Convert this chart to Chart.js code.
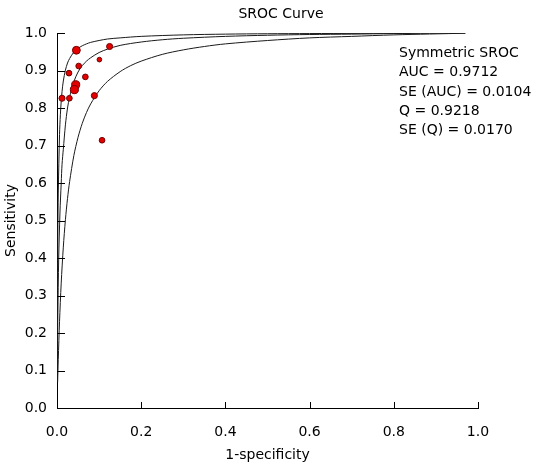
<!DOCTYPE html>
<html>
<head>
<meta charset="utf-8">
<script src="https://cdn.jsdelivr.net/npm/chart.js@4.4.1/dist/chart.umd.min.js"></script>
<style>
  html, body { margin: 0; padding: 0; background: #fff; }
</style>
</head>
<body>
<canvas id="myChart" width="539" height="469"></canvas>
<script>
const chartTitle = "SROC Curve";
const xTitle = "1-specificity";
const yTitle = "Sensitivity";
const xTicks = [0, 0.2, 0.4, 0.6, 0.8, 1.0];
const yTicks = [0, 0.1, 0.2, 0.3, 0.4, 0.5, 0.6, 0.7, 0.8, 0.9, 1.0];

// individual studies (1-specificity, sensitivity, relative weight)
const studyFpr    = [0.046, 0.125, 0.0515, 0.0285, 0.1007, 0.0674, 0.0444, 0.0413, 0.0119, 0.0294, 0.0888, 0.107];
const studySens   = [0.954, 0.964, 0.912,  0.893,  0.929,  0.883,  0.862,  0.849,  0.826,  0.826,  0.833,  0.714];
const studyWeight = [11, 6, 5, 5, 3, 5, 12, 12, 6, 5, 6, 5];

// curves
const upperFpr  = [0.0002, 0.0005, 0.001, 0.002, 0.003, 0.006, 0.008, 0.01, 0.012, 0.015, 0.02, 0.025, 0.03, 0.04, 0.05, 0.06, 0.07, 0.08, 0.1, 0.12, 0.15, 0.2, 0.3, 0.4, 0.5, 0.6, 0.84];
const upperSens = [0.082, 0.182, 0.309, 0.472, 0.573, 0.729, 0.782, 0.818, 0.844, 0.872, 0.901, 0.920, 0.932, 0.949, 0.959, 0.966, 0.971, 0.975, 0.980, 0.984, 0.987, 0.991, 0.995, 0.997, 0.998, 0.9985, 0.9996];

const midFpr  = [0.0005, 0.001, 0.002, 0.004, 0.007, 0.01, 0.012, 0.015, 0.02, 0.025, 0.03, 0.04, 0.05, 0.06, 0.07, 0.08, 0.1, 0.12, 0.15, 0.2, 0.25, 0.3, 0.4, 0.5, 0.6, 0.7, 0.8, 0.97];
const midSens = [0.076, 0.141, 0.247, 0.397, 0.520, 0.600, 0.650, 0.690, 0.755, 0.800, 0.830, 0.870, 0.896, 0.913, 0.925, 0.934, 0.948, 0.957, 0.967, 0.976, 0.982, 0.986, 0.991, 0.994, 0.996, 0.997, 0.9985, 0.9998];

const lowerFpr  = [0.0015, 0.003, 0.006, 0.01, 0.015, 0.02, 0.025, 0.03, 0.04, 0.05, 0.06, 0.07, 0.08, 0.1, 0.12, 0.15, 0.175, 0.2, 0.25, 0.3, 0.35, 0.4, 0.5, 0.6, 0.7, 0.8, 0.97];
const lowerSens = [0.069, 0.129, 0.230, 0.333, 0.429, 0.502, 0.559, 0.604, 0.673, 0.722, 0.759, 0.788, 0.811, 0.846, 0.871, 0.897, 0.913, 0.925, 0.943, 0.955, 0.964, 0.971, 0.980, 0.987, 0.991, 0.995, 0.9994];

const statsLines = ["Symmetric SROC", "AUC = 0.9712", "SE (AUC) = 0.0104", "Q = 0.9218", "SE (Q) = 0.0170"];

const FONT = 'Tahoma, "DejaVu Sans", sans-serif';
const FONT_SIZE = 14;

function toPoints(xs, ys) {
    return xs.map((v, i) => ({ x: v, y: ys[i] }));
}

function curve(xs, ys) {
    return {
        type: 'scatter',
        data: toPoints(xs, ys),
        showLine: true,
        borderColor: '#1a1a1a',
        borderWidth: 1,
        pointRadius: 0,
        tension: 0.3,
        order: 2
    };
}

// tick marks point inward, plus the title and the stats block
const decorations = {
    id: 'decorations',
    afterDraw(chart) {
        const { ctx, chartArea, scales } = chart;
        ctx.save();
        ctx.strokeStyle = '#000';
        ctx.lineWidth = 1;
        ctx.beginPath();
        xTicks.forEach(v => {
            const px = Math.round(scales.x.getPixelForValue(v)) + 0.5;
            ctx.moveTo(px, chartArea.bottom);
            ctx.lineTo(px, chartArea.bottom - 6);
        });
        yTicks.forEach(v => {
            const py = Math.round(scales.y.getPixelForValue(v)) + 0.5;
            ctx.moveTo(chartArea.left, py);
            ctx.lineTo(chartArea.left + 8, py);
        });
        ctx.stroke();

        ctx.fillStyle = '#000';
        ctx.font = FONT_SIZE + 'px ' + FONT;
        ctx.textBaseline = 'middle';
        ctx.textAlign = 'center';
        ctx.fillText(chartTitle, 281, 14);
        ctx.textAlign = 'left';
        statsLines.forEach((t, i) => ctx.fillText(t, 399, 53.5 + i * 19.2));
        ctx.restore();
    }
};

const ctx = document.getElementById("myChart");

new Chart(ctx, {
    data: {
        datasets: [
            {
                type: 'scatter',
                data: toPoints(studyFpr, studySens),
                backgroundColor: '#e50000',
                borderColor: '#6e0000',
                borderWidth: 1,
                pointRadius: studyWeight.map(w => Math.sqrt(w) + 0.6),
                order: 1
            },
            curve(upperFpr, upperSens),
            curve(midFpr, midSens),
            curve(lowerFpr, lowerSens)
        ]
    },
    options: {
        responsive: false,
        animation: false,
        layout: { padding: { top: 33, right: 61, left: 0, bottom: 0 } },
        plugins: {
            legend: { display: false },
            tooltip: { enabled: false }
        },
        scales: {
            x: {
                type: 'linear',
                min: 0,
                max: 1,
                afterFit: s => { s.height = 61; },
                afterBuildTicks: s => { s.ticks = xTicks.map(v => ({ value: v })); },
                grid: { display: false, drawTicks: false },
                border: { display: true, color: '#000', width: 1 },
                ticks: {
                    color: '#000',
                    padding: 16,
                    maxRotation: 0,
                    font: { family: FONT, size: FONT_SIZE },
                    callback: v => v.toFixed(1)
                },
                title: {
                    display: true,
                    text: xTitle,
                    color: '#000',
                    padding: { top: 0, bottom: 5 },
                    font: { family: FONT, size: FONT_SIZE }
                }
            },
            y: {
                type: 'linear',
                min: 0,
                max: 1,
                afterFit: s => { s.width = 57; },
                afterBuildTicks: s => { s.ticks = yTicks.map(v => ({ value: v })); },
                grid: { display: false, drawTicks: false },
                border: { display: true, color: '#000', width: 1 },
                ticks: {
                    color: '#000',
                    padding: 10,
                    font: { family: FONT, size: FONT_SIZE },
                    callback: v => v.toFixed(1)
                },
                title: {
                    display: true,
                    text: yTitle,
                    color: '#000',
                    padding: { top: 3, bottom: 0 },
                    font: { family: FONT, size: FONT_SIZE }
                }
            }
        }
    },
    plugins: [decorations]
});
</script>
</body>
</html>
